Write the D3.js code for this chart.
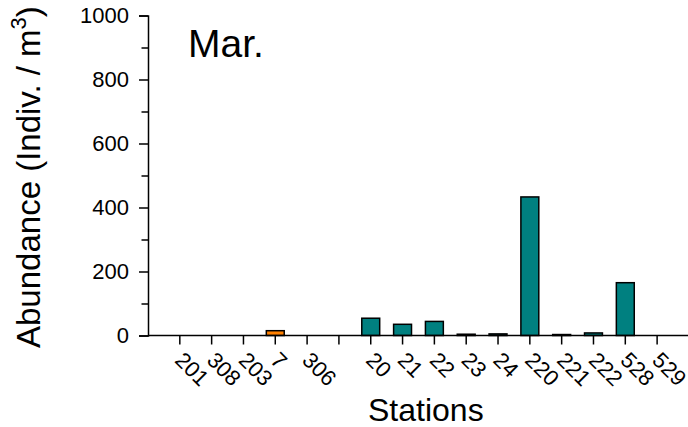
<!DOCTYPE html>
<html>
<head>
<meta charset="utf-8">
<script src="https://cdn.jsdelivr.net/npm/d3@7/dist/d3.min.js"></script>
<style>
  html, body { margin: 0; padding: 0; background: #fff; }
  svg { display: block; font-family: "Liberation Sans", Arial, sans-serif; }
</style>
</head>
<body>
<svg id="chart" width="688" height="427"></svg>
<script>
// Zooplankton abundance per station, March survey
const stations = ["201", "308", "203", "7", "306", "", "20", "21", "22", "23", "24", "220", "221", "222", "528", "529"];
const abundance = [0, 0, 0, 15, 0, 0, 54, 35, 44, 4, 5, 433, 3, 8, 165, 0];
const highlighted = ["7"];           // stations drawn in orange
const yTicks = [0, 200, 400, 600, 800, 1000];
const yMinorTicks = [100, 300, 500, 700, 900];

const svg = d3.select("#chart");

const x0 = 148, step = 31.82;
const x = d3.scaleLinear().domain([0, stations.length + 1]).range([x0, x0 + step * (stations.length + 1)]);
const y = d3.scaleLinear().domain([0, 1000]).range([335.5, 15.5]);

const pos = (d, i) => i + 1;
const barW = x(0.61) - x(0);
const strokeW = 1.5;

// bars
svg.append("g")
  .selectAll("rect")
  .data(stations.map((s, i) => ({ s, v: abundance[i], i })).filter(d => d.v > 0))
  .join("rect")
  .attr("x", d => x(d.i + 1) - barW / 2 + strokeW / 2)
  .attr("width", barW - strokeW)
  .attr("y", d => y(d.v))
  .attr("height", d => y(0) - y(d.v))
  .attr("fill", d => highlighted.includes(d.s) ? "#FF8000" : "#008080")
  .attr("stroke", "#000")
  .attr("stroke-width", strokeW);

// y axis
const yAxis = svg.append("g").attr("transform", `translate(${x0},0)`);
yAxis.call(d3.axisLeft(y).tickValues(yTicks).tickSize(9).tickPadding(10).tickFormat(d3.format("d")));
yAxis.append("g").call(d3.axisLeft(y).tickValues(yMinorTicks).tickSize(6.5).tickFormat(""));
yAxis.selectAll(".domain").attr("stroke", "#000").attr("stroke-width", 1.5);
yAxis.selectAll(".tick line").attr("stroke", "#000").attr("stroke-width", 1.5);
yAxis.selectAll(".tick text")
  .attr("font-size", 22)
  .attr("font-family", "Liberation Sans, Arial, sans-serif")
  .attr("fill", "#000");
yAxis.selectAll(".domain").filter((d, i) => i > 0).remove();

// x axis
const xAxis = svg.append("g").attr("transform", `translate(0,${y(0)})`);
xAxis.append("line")
  .attr("x1", x0).attr("x2", 688)
  .attr("stroke", "#000").attr("stroke-width", 1.5);
const xt = xAxis.selectAll("g.xtick")
  .data(stations)
  .join("g")
  .attr("class", "xtick")
  .attr("transform", (d, i) => `translate(${x(pos(d, i))},0)`);
xt.append("line").attr("y1", 0).attr("y2", 9).attr("stroke", "#000").attr("stroke-width", 1.5);
xt.append("text")
  .attr("transform", "translate(-6,26) rotate(45)")
  .attr("text-anchor", "start")
  .attr("font-size", 22)
  .attr("fill", "#000")
  .text(d => d);

// axis titles
svg.append("text")
  .attr("x", 368).attr("y", 421)
  .attr("font-size", 32)
  .attr("fill", "#000")
  .text("Stations");

const yt = svg.append("text")
  .attr("transform", "translate(40,348) rotate(-90)")
  .attr("text-anchor", "start")
  .attr("font-size", 33)
  .attr("fill", "#000");
yt.append("tspan").text("Abundance (Indiv. / m");
yt.append("tspan").attr("font-size", 22).attr("dy", -14).text("3");
yt.append("tspan").attr("dy", 14).text(")");

// month label
svg.append("text")
  .attr("x", 188).attr("y", 57)
  .attr("font-size", 39)
  .attr("fill", "#000")
  .text("Mar.");
</script>
</body>
</html>
